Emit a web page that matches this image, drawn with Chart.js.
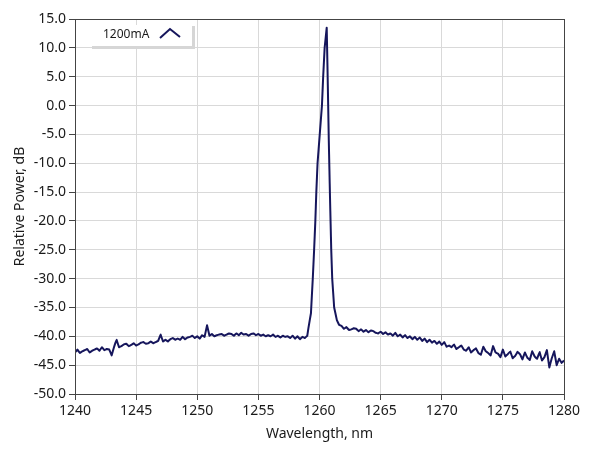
<!DOCTYPE html>
<html>
<head>
<meta charset="utf-8">
<script src="https://cdn.jsdelivr.net/npm/chart.js@4"></script>
<style>
  html, body { margin: 0; padding: 0; background: #fff; }
  #wrap { width: 589px; height: 456px; position: relative; }
</style>
</head>
<body>
<div id="wrap"><canvas id="chart"></canvas></div>
<script>
// Спектр: левый фон, пик, правый фон
const seriesLabel = '1200mA';

const leftWl = [
  1240.0, 1240.2, 1240.4, 1240.6, 1240.8,
  1241.0, 1241.2, 1241.4, 1241.6, 1241.8,
  1242.0, 1242.2, 1242.4, 1242.6, 1242.8,
  1243.0, 1243.2, 1243.4, 1243.6, 1243.8,
  1244.0, 1244.2, 1244.4, 1244.6, 1244.8,
  1245.0, 1245.2, 1245.4, 1245.6, 1245.8,
  1246.0, 1246.2, 1246.4, 1246.6, 1246.8,
  1247.0, 1247.2, 1247.4, 1247.6, 1247.8,
  1248.0, 1248.2, 1248.4, 1248.6, 1248.8,
  1249.0, 1249.2, 1249.4, 1249.6, 1249.8,
  1250.0, 1250.2, 1250.4, 1250.6, 1250.8,
  1251.0, 1251.2, 1251.4, 1251.6, 1251.8,
  1252.0, 1252.2, 1252.4, 1252.6, 1252.8,
  1253.0, 1253.2, 1253.4, 1253.6, 1253.8,
  1254.0, 1254.2, 1254.4, 1254.6, 1254.8,
  1255.0, 1255.2, 1255.4, 1255.6, 1255.8,
  1256.0, 1256.2, 1256.4, 1256.6, 1256.8,
  1257.0, 1257.2, 1257.4, 1257.6, 1257.8,
  1258.0, 1258.2, 1258.4, 1258.6, 1258.8,
  1259.0
];
const leftDb = [
  -42.8, -42.3, -42.9, -42.6, -42.4,
  -42.2, -42.8, -42.5, -42.3, -42.1,
  -42.5, -41.9, -42.4, -42.2, -42.3,
  -43.3, -41.8, -40.6, -41.9, -41.7,
  -41.4, -41.3, -41.7, -41.5, -41.2,
  -41.6, -41.4, -41.1, -41.0, -41.3,
  -41.2, -40.9, -41.2, -41.0, -40.8,
  -39.7, -40.9, -40.6, -40.9, -40.5,
  -40.3, -40.6, -40.4, -40.6, -40.1,
  -40.5, -40.2, -40.1, -39.9, -40.3,
  -40.0, -40.4, -39.8, -40.1, -38.1,
  -39.9, -39.6, -40.0, -39.8, -39.7,
  -39.6, -39.9, -39.7, -39.5, -39.6,
  -39.9, -39.5, -39.8, -39.4, -39.7,
  -39.6, -39.9, -39.6, -39.5, -39.8,
  -39.6, -39.9, -39.7, -40.0, -39.8,
  -40.0, -39.7, -40.1, -39.9, -40.2,
  -39.9, -40.1, -40.0, -40.3, -39.9,
  -40.4, -40.0, -40.5, -40.1, -40.3,
  -39.9
];

const peakWl = [1259.1, 1259.3, 1259.45, 1259.56, 1259.66, 1259.74, 1259.84, 1260.02,
  1260.2, 1260.3, 1260.42, 1260.59, 1260.65, 1260.71, 1260.76, 1260.81,
  1260.86, 1260.91, 1260.96, 1261.04, 1261.2, 1261.42, 1261.6];
const peakDb = [-38.5, -36, -30, -25, -20, -15, -10, -5,
  0, 5, 10, 13.5, 7, 0, -6, -11,
  -16, -20.5, -25, -30, -35, -37.2, -38.0];

const rightWl = [
  1261.8,
  1262.0, 1262.2, 1262.4, 1262.6, 1262.8,
  1263.0, 1263.2, 1263.4, 1263.6, 1263.8,
  1264.0, 1264.2, 1264.4, 1264.6, 1264.8,
  1265.0, 1265.2, 1265.4, 1265.6, 1265.8,
  1266.0, 1266.2, 1266.4, 1266.6, 1266.8,
  1267.0, 1267.2, 1267.4, 1267.6, 1267.8,
  1268.0, 1268.2, 1268.4, 1268.6, 1268.8,
  1269.0, 1269.2, 1269.4, 1269.6, 1269.8,
  1270.0, 1270.2, 1270.4, 1270.6, 1270.8,
  1271.0, 1271.2, 1271.4, 1271.6, 1271.8,
  1272.0, 1272.2, 1272.4, 1272.6, 1272.8,
  1273.0, 1273.2, 1273.4, 1273.6, 1273.8,
  1274.0, 1274.2, 1274.4, 1274.6, 1274.8,
  1275.0, 1275.2, 1275.4, 1275.6, 1275.8,
  1276.0, 1276.2, 1276.4, 1276.6, 1276.8,
  1277.0, 1277.2, 1277.4, 1277.6, 1277.8,
  1278.0, 1278.2, 1278.4, 1278.6, 1278.8,
  1279.0, 1279.2, 1279.4, 1279.6, 1279.8,
  1280.0
];
const rightDb = [
  -38.2,
  -38.7, -38.4, -38.9, -38.8, -38.6,
  -38.7, -39.1, -38.8, -39.2, -38.9,
  -39.3, -39.0, -39.1, -39.4, -39.5,
  -39.2, -39.6, -39.3, -39.7, -39.5,
  -39.9, -39.4, -40.0, -39.7, -40.2,
  -39.8, -40.3, -40.0, -40.5, -40.1,
  -40.6, -40.2, -40.8, -40.4, -41.0,
  -40.6, -41.1, -40.8, -41.3, -40.9,
  -41.5, -41.0, -41.8, -41.6, -41.9,
  -41.4, -42.2, -41.9, -41.6, -42.3,
  -42.5, -41.9, -42.8, -42.4, -42.1,
  -42.9, -43.2, -41.8, -42.6, -42.9,
  -43.3, -41.7, -42.8, -43.0, -43.6,
  -42.3, -43.5, -43.1, -42.6, -43.8,
  -43.4, -42.7, -43.1, -44.0, -42.8,
  -43.7, -44.1, -42.6, -43.5, -43.9,
  -42.7, -44.2, -43.6, -42.4, -45.4,
  -43.8, -42.6, -45.0, -43.9, -44.6,
  -44.2
];

const xMin = 1240, xMax = 1280, xStep = 5;
const yMin = -50, yMax = 15, yStep = 5;

const lineColor = '#16165c';
const fontFamily = '"Noto Sans", "Open Sans", sans-serif';

// собираем точки
const wl = leftWl.concat(peakWl, rightWl);
const db = leftDb.concat(peakDb, rightDb);
const points = wl.map((x, i) => ({ x: x, y: db[i] }));

// рамка вокруг области графика + легенда
const framePlugin = {
  id: 'frame',
  afterDraw(chart) {
    const ctx = chart.ctx;
    const a = chart.chartArea;
    ctx.save();
    ctx.strokeStyle = '#444';
    ctx.lineWidth = 1;
    ctx.strokeRect(a.left + 0.5, a.top + 0.5, a.right - a.left, a.bottom - a.top);

    // легенда
    const bx = a.left + 15, by = a.top + 6, bw = 103, bh = 22;
    ctx.fillStyle = '#fff';
    ctx.fillRect(bx, by, bw, bh);
    ctx.fillStyle = '#d6d6d6';
    ctx.fillRect(bx + 2, by + bh - 1, bw, 3);
    ctx.fillRect(bx + bw - 1, by + 1, 3, bh + 1);
    ctx.fillStyle = '#1a1a1a';
    ctx.font = '12px ' + fontFamily;
    ctx.textBaseline = 'middle';
    ctx.fillText(chart.data.datasets[0].label, bx + 13, by + 10);
    ctx.strokeStyle = lineColor;
    ctx.lineWidth = 2;
    ctx.beginPath();
    ctx.moveTo(bx + 70, by + 13);
    ctx.lineTo(bx + 80, by + 4);
    ctx.lineTo(bx + 90, by + 12);
    ctx.stroke();
    ctx.restore();
  }
};

const ctx = document.getElementById('chart').getContext('2d');
new Chart(ctx, {
  type: 'line',
  data: {
    datasets: [{
      label: seriesLabel,
      data: points,
      borderColor: lineColor,
      borderWidth: 2,
      borderJoinStyle: 'round',
      pointRadius: 0,
      tension: 0.0001, // чтобы не включался fast path (даёт зазубрины на пике)
      fill: false
    }]
  },
  options: {
    responsive: true,
    maintainAspectRatio: false,
    animation: false,
    layout: { padding: { top: 19, right: 25, left: 0, bottom: 0 } },
    plugins: {
      legend: { display: false },
      tooltip: { enabled: false }
    },
    scales: {
      x: {
        type: 'linear',
        min: xMin,
        max: xMax,
        ticks: {
          stepSize: xStep,
          color: '#1a1a1a',
          font: { family: fontFamily, size: 14 },
          padding: 3,
          maxRotation: 0,
          callback: v => String(v)
        },
        grid: { color: '#d9d9d9', tickColor: '#444', tickLength: 6 },
        border: { color: '#444' },
        title: {
          display: true,
          text: 'Wavelength, nm',
          color: '#1a1a1a',
          font: { family: fontFamily, size: 14 },
          padding: { top: 4, bottom: 14 }
        },
        afterFit(scale) { scale.height = 62; }
      },
      y: {
        min: yMin,
        max: yMax,
        ticks: {
          stepSize: yStep,
          color: '#1a1a1a',
          font: { family: fontFamily, size: 14 },
          padding: 3,
          callback: v => v.toFixed(1)
        },
        grid: { color: '#d9d9d9', tickColor: '#444', tickLength: 6 },
        border: { color: '#444' },
        title: {
          display: true,
          text: 'Relative Power, dB',
          color: '#1a1a1a',
          font: { family: fontFamily, size: 14 },
          padding: { top: 12, bottom: 4 }
        },
        afterFit(scale) { scale.width = 75; }
      }
    }
  },
  plugins: [framePlugin]
});
</script>
</body>
</html>
